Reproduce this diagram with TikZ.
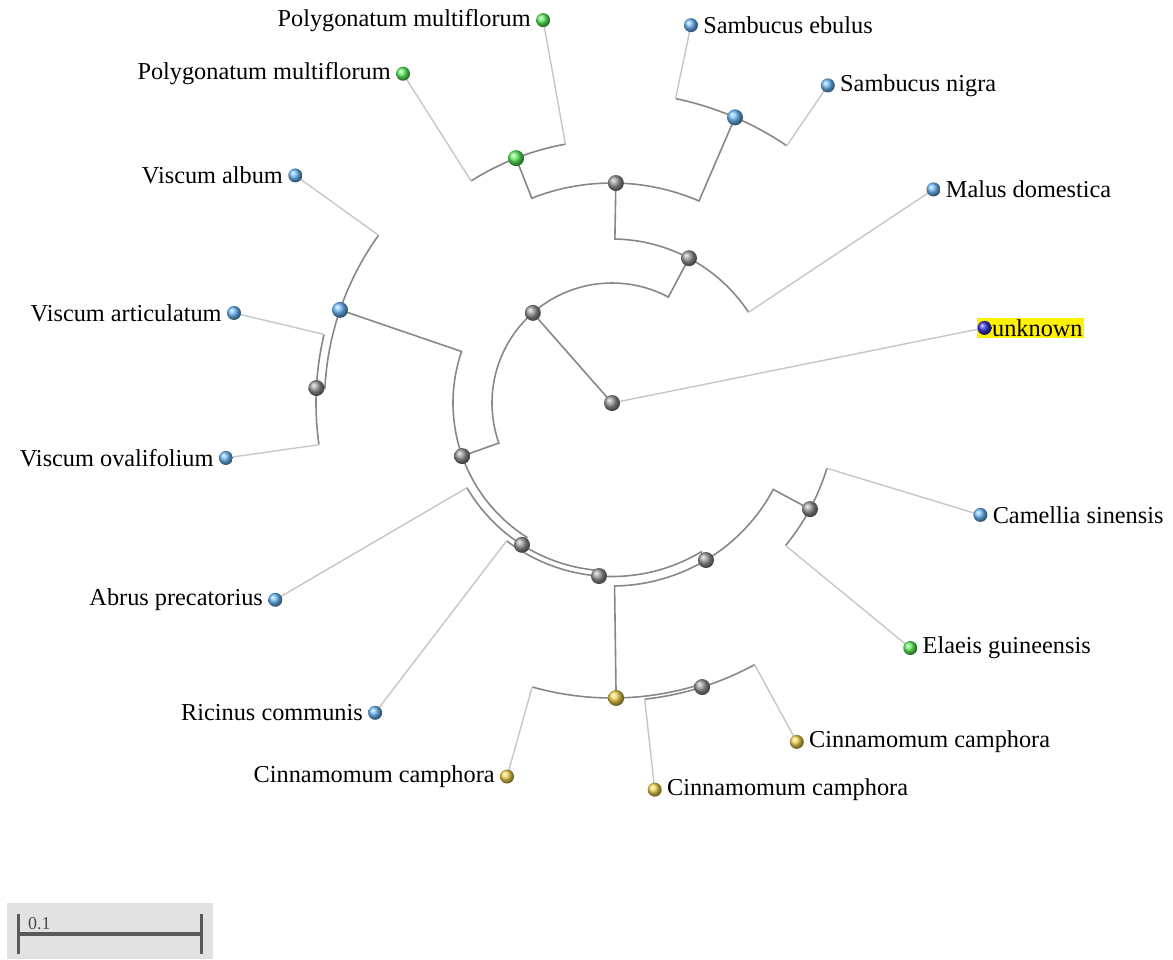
\documentclass[tikz,border=0pt]{standalone}
\usepackage{fontspec}
\setmainfont{Liberation Serif}
\usetikzlibrary{backgrounds}
\definecolor{treeline}{RGB}{135,135,135}
\definecolor{tipline}{RGB}{198,198,198}
\definecolor{nodegray}{RGB}{150,150,150}
\definecolor{leafblue}{RGB}{110,185,250}
\definecolor{leafgreen}{RGB}{90,240,90}
\definecolor{leafgold}{RGB}{240,210,80}
\definecolor{unkblue}{RGB}{50,50,215}
\definecolor{bargray}{RGB}{226,226,226}
\tikzset{
  branch/.style={draw=treeline, line width=1.6pt},
  twig/.style={draw=tipline, line width=1.4pt},
  inner/.style={circle, shading=ball, ball color=#1, minimum size=16pt, inner sep=0pt},
  inner/.default={nodegray},
  tip/.style={circle, shading=ball, ball color=#1, minimum size=14pt, inner sep=0pt},
  lab/.style={font=\fontsize{24.3}{27}\selectfont, inner sep=1pt},
  every label/.style={lab},
  label distance=4pt
}
\begin{document}
\begin{tikzpicture}[x=1pt, y=1pt]
  \useasboundingbox (0,0) rectangle (1173,-959);
  \begin{scope}[shift={(612,-403)}]
    % inner nodes
    \node[inner] (R) at (0,0) {};
    \node[inner] (A) at (131.3:120) {};
    \node[inner] (B) at (62:164) {};
    \node[inner] (C) at (199.5:159) {};
    \node[inner] (D) at (89:220) {};
    \node[inner=leafgreen] (E) at (111.4:263) {};
    \node[inner=leafblue] (F) at (66.7:311) {};
    \node[inner=leafblue] (G) at (161.1:287.5) {};
    \node[inner] (O) at (177.1:296) {};
    \node[inner] (I) at (237.6:168) {};
    \node[inner] (J) at (265.7:173.5) {};
    \node[inner] (K) at (300.9:183) {};
    \node[inner] (L) at (331.8:224.6) {};
    \node[inner=leafgold] (M) at (270.8:295) {};
    \node[inner] (N) at (287.6:298) {};

    % leaves
    \node[lab, fill=yellow, anchor=west, inner sep=1.5pt] (unk-txt) at ([xshift=-8]11.4:380) {\hspace{14pt}unknown};
    \node[tip=unkblue] (unk) at (11.4:380) {};
    \node[tip=leafblue, label=right:Malus domestica] (mal) at (33.6:386) {};
    \node[tip=leafblue, label=right:Sambucus nigra] (sni) at (55.8:384) {};
    \node[tip=leafblue, label=right:Sambucus ebulus] (seb) at (78.2:386) {};
    \node[tip=leafgreen, label=left:Polygonatum multiflorum] (pm1) at (100.2:389) {};
    \node[tip=leafgreen, label=left:Polygonatum multiflorum] (pm2) at (122.4:390) {};
    \node[tip=leafblue, label=left:Viscum album] (val) at (144.3:390) {};
    \node[tip=leafblue, label=left:Viscum articulatum] (var) at (166.6:388.6) {};
    \node[tip=leafblue, label=left:Viscum ovalifolium] (vov) at (188.1:390) {};
    \node[tip=leafblue, label=left:Abrus precatorius] (apr) at (210.3:390) {};
    \node[tip=leafblue, label=left:Ricinus communis] (rco) at (232.6:390) {};
    \node[tip=leafgold, label=left:Cinnamomum camphora] (cc1) at (254.3:388) {};
    \node[tip=leafgold, label=right:Cinnamomum camphora] (cc2) at (276.3:389) {};
    \node[tip=leafgold, label=right:Cinnamomum camphora] (cc3) at (298.6:386) {};
    \node[tip=leafgreen, label=right:Elaeis guineensis] (egu) at (320.6:386) {};
    \node[tip=leafblue, label=right:Camellia sinensis] (csi) at (343.1:385) {};

    \begin{scope}[on background layer]
      \draw[twig] (R.center) -- (unk.center);
      \draw[branch] (R.center) -- (A.center);
      \draw[branch] (A.center) arc[start angle=131.3, end angle=62, radius=120] -- (B.center);
      \draw[branch] (A.center) arc[start angle=131.3, end angle=199.5, radius=120] -- (C.center);
      \draw[branch] (B.center) arc[start angle=62, end angle=89, radius=164] -- (D.center);
      \draw[branch] (B.center) arc[start angle=62, end angle=33.6, radius=164] coordinate (b-mal);
      \draw[twig] (b-mal) -- (mal.center);
      \draw[branch] (D.center) arc[start angle=89, end angle=111.4, radius=220] -- (E.center);
      \draw[branch] (D.center) arc[start angle=89, end angle=66.7, radius=220] -- (F.center);
      \draw[branch] (E.center) arc[start angle=111.4, end angle=100.2, radius=263] coordinate (e-pm1);
      \draw[twig] (e-pm1) -- (pm1.center);
      \draw[branch] (E.center) arc[start angle=111.4, end angle=122.4, radius=263] coordinate (e-pm2);
      \draw[twig] (e-pm2) -- (pm2.center);
      \draw[branch] (F.center) arc[start angle=66.7, end angle=78.2, radius=311] coordinate (f-seb);
      \draw[twig] (f-seb) -- (seb.center);
      \draw[branch] (F.center) arc[start angle=66.7, end angle=55.8, radius=311] coordinate (f-sni);
      \draw[twig] (f-sni) -- (sni.center);
      \draw[branch] (C.center) arc[start angle=199.5, end angle=161.1, radius=159] -- (G.center);
      \draw[branch] (C.center) arc[start angle=199.5, end angle=237.6, radius=159] -- (I.center);
      \draw[branch] (G.center) arc[start angle=161.1, end angle=144.3, radius=287.5] coordinate (g-val);
      \draw[twig] (g-val) -- (val.center);
      \draw[branch] (G.center) arc[start angle=161.1, end angle=177.1, radius=287.5] -- (O.center);
      \draw[branch] (O.center) arc[start angle=177.1, end angle=166.6, radius=296] coordinate (o-var);
      \draw[twig] (o-var) -- (var.center);
      \draw[branch] (O.center) arc[start angle=177.1, end angle=188.1, radius=296] coordinate (o-vov);
      \draw[twig] (o-vov) -- (vov.center);
      \draw[branch] (I.center) arc[start angle=237.6, end angle=210.3, radius=168] coordinate (i-apr);
      \draw[twig] (i-apr) -- (apr.center);
      \draw[branch] (I.center) arc[start angle=237.6, end angle=265.7, radius=168] -- (J.center);
      \draw[branch] (J.center) arc[start angle=265.7, end angle=232.6, radius=173.5] coordinate (j-rco);
      \draw[twig] (j-rco) -- (rco.center);
      \draw[branch] (J.center) arc[start angle=265.7, end angle=300.9, radius=173.5] -- (K.center);
      \draw[branch] (K.center) arc[start angle=300.9, end angle=270.8, radius=183] -- (M.center);
      \draw[branch] (K.center) arc[start angle=300.9, end angle=331.8, radius=183] -- (L.center);
      \draw[branch] (L.center) arc[start angle=331.8, end angle=320.6, radius=224.6] coordinate (l-egu);
      \draw[twig] (l-egu) -- (egu.center);
      \draw[branch] (L.center) arc[start angle=331.8, end angle=343.1, radius=224.6] coordinate (l-csi);
      \draw[twig] (l-csi) -- (csi.center);
      \draw[branch] (M.center) arc[start angle=270.8, end angle=254.3, radius=295] coordinate (m-cc1);
      \draw[twig] (m-cc1) -- (cc1.center);
      \draw[branch] (M.center) arc[start angle=270.8, end angle=287.6, radius=295] -- (N.center);
      \draw[branch] (N.center) arc[start angle=287.6, end angle=276.3, radius=298] coordinate (n-cc2);
      \draw[twig] (n-cc2) -- (cc2.center);
      \draw[branch] (N.center) arc[start angle=287.6, end angle=298.6, radius=298] coordinate (n-cc3);
      \draw[twig] (n-cc3) -- (cc3.center);
    \end{scope}
  \end{scope}

  % scale bar
  \fill[bargray] (7,-903) rectangle (213,-959);
  \coordinate (bar-l) at (18,-934);
  \coordinate (bar-r) at (201,-934);
  \draw[line width=4pt, black!65] (bar-l) -- (bar-r);
  \draw[line width=3pt, black!65] ([yshift=20]bar-l) -- ([yshift=-20]bar-l);
  \draw[line width=3pt, black!65] ([yshift=20]bar-r) -- ([yshift=-20]bar-r);
  \node[font=\fontsize{18}{20}\selectfont, text=black!70, anchor=south west, inner sep=1pt] (bar-txt) at ([xshift=9, yshift=3]bar-l) {0.1};
\end{tikzpicture}
\end{document}
